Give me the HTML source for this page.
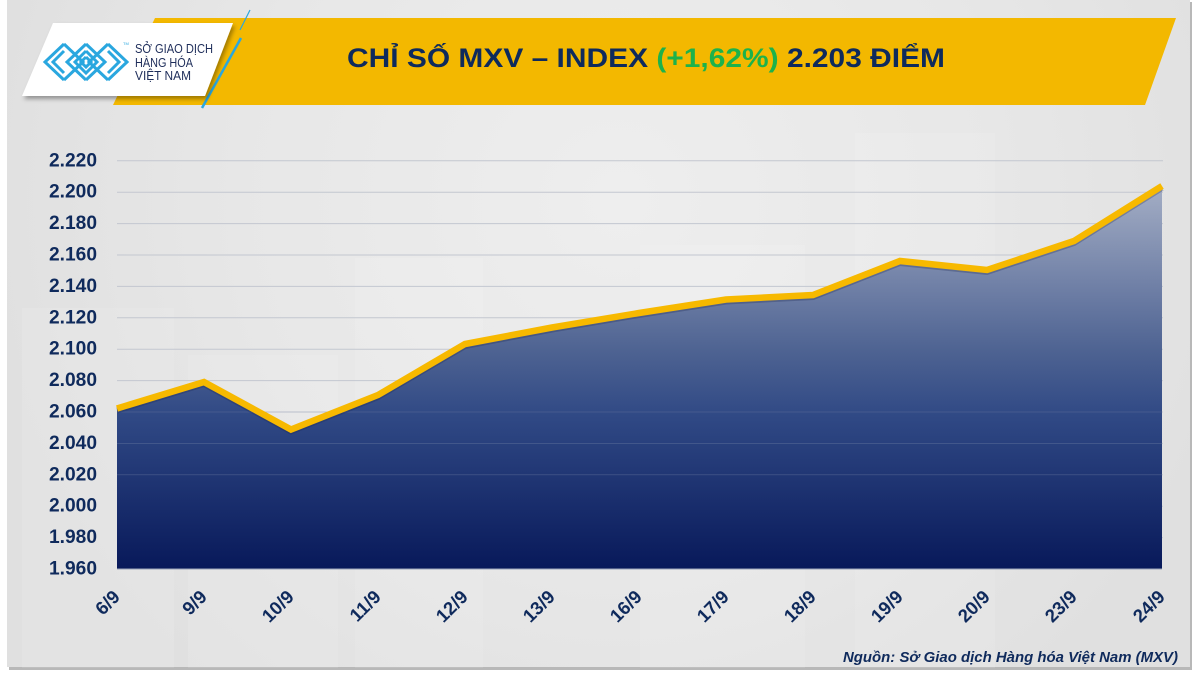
<!DOCTYPE html>
<html>
<head>
<meta charset="utf-8">
<style>
  html,body{margin:0;padding:0;background:#ffffff;}
  body{width:1200px;height:675px;overflow:hidden;position:relative;}
  svg{position:absolute;left:0;top:0;}
  text{font-family:"Liberation Sans","Noto Sans CJK SC",sans-serif;}
</style>
</head>
<body>
<svg width="1200" height="675" viewBox="0 0 1200 675" xmlns="http://www.w3.org/2000/svg">
  <defs>
    <radialGradient id="bgGlow" cx="620" cy="200" r="640" gradientUnits="userSpaceOnUse">
      <stop offset="0" stop-color="#eeeeee"/>
      <stop offset="0.6" stop-color="#e7e7e7"/>
      <stop offset="1" stop-color="#e0e0e0"/>
    </radialGradient>
    <linearGradient id="areaFill" x1="0" y1="186" x2="0" y2="569" gradientUnits="userSpaceOnUse">
      <stop offset="0" stop-color="#a4aec5"/>
      <stop offset="0.29" stop-color="#6a7ba3"/>
      <stop offset="0.43" stop-color="#4e6392"/>
      <stop offset="0.6" stop-color="#304985"/>
      <stop offset="1" stop-color="#08195a"/>
    </linearGradient>
    <filter id="sh" x="-10%" y="-10%" width="130%" height="140%">
      <feDropShadow dx="2" dy="3" stdDeviation="2" flood-color="#000" flood-opacity="0.35"/>
    </filter>
  </defs>

  <!-- panel shadow + panel -->
  <rect x="9" y="2" width="1183" height="668" fill="#b8b8b8"/>
  <rect x="7" y="0" width="1183" height="667" fill="url(#bgGlow)"/>

  <!-- faint background decorations -->
  <g fill="#ffffff" opacity="0.1">
    <rect x="22" y="308" width="152" height="360"/>
    <rect x="188" y="355" width="150" height="313"/>
    <rect x="355" y="258" width="128" height="410"/>
    <rect x="640" y="245" width="165" height="423"/>
    <rect x="855" y="133" width="140" height="535"/>
  </g>

  <!-- yellow banner -->
  <polygon points="155,18 1176,18 1145,105 113,105" fill="#f3b800"/>
  <!-- blue accent lines -->
  <line x1="250" y1="10" x2="240" y2="30" stroke="#2aa7df" stroke-width="1.2"/>
  <line x1="241" y1="38" x2="202" y2="108" stroke="#2aa7df" stroke-width="2.5"/>
  <!-- logo card -->
  <polygon points="53,23 233,23 205,96 22,96" fill="#ffffff" filter="url(#sh)"/>
  <!-- maze logo -->
  <g fill="none" stroke="#2aa7df" stroke-width="3" stroke-linejoin="miter">
    <polyline points="64,44 45,62 64,80"/>
    <polyline points="64,51 53,62 64,73"/>
    <polyline points="64,44 83,62 64,80"/>
    <polyline points="86,44 67,62 86,80"/>
    <polyline points="86,51 75,62 86,73 97,62 86,51"/>
    <polyline points="86,44 105,62 86,80"/>
    <polyline points="108,44 89,62 108,80"/>
    <polyline points="108,44 127,62 108,80"/>
    <polyline points="108,51 119,62 108,73"/>
    <polyline points="86,57 91,62 86,67 81,62 86,57"/>
  </g>
  <text x="123" y="45" font-size="4" fill="#2aa7df">TM</text>
  <g fill="#1e2d5a" font-size="13">
    <text x="135" y="53" textLength="78" lengthAdjust="spacingAndGlyphs">SỞ GIAO DỊCH</text>
    <text x="135" y="67" textLength="58" lengthAdjust="spacingAndGlyphs">HÀNG HÓA</text>
    <text x="135" y="80" textLength="56" lengthAdjust="spacingAndGlyphs">VIỆT NAM</text>
  </g>

  <!-- title -->
  <text x="347" y="67" font-size="27" font-weight="bold" fill="#0e2a5c" textLength="598" lengthAdjust="spacingAndGlyphs">CHỈ SỐ MXV – INDEX <tspan fill="#1db24b">(+1,62%)</tspan> 2.203 ĐIỂM</text>

  <!-- gridlines -->
  <g stroke="#c3c7d0" stroke-width="1">
    <line x1="117" y1="160.8" x2="1163" y2="160.8"/>
    <line x1="117" y1="192.2" x2="1163" y2="192.2"/>
    <line x1="117" y1="223.6" x2="1163" y2="223.6"/>
    <line x1="117" y1="255" x2="1163" y2="255"/>
    <line x1="117" y1="286.4" x2="1163" y2="286.4"/>
    <line x1="117" y1="317.8" x2="1163" y2="317.8"/>
    <line x1="117" y1="349.2" x2="1163" y2="349.2"/>
    <line x1="117" y1="380.6" x2="1163" y2="380.6"/>
    <line x1="117" y1="412" x2="1163" y2="412"/>
    <line x1="117" y1="443.4" x2="1163" y2="443.4"/>
    <line x1="117" y1="474.8" x2="1163" y2="474.8"/>
    <line x1="117" y1="506.2" x2="1163" y2="506.2"/>
    <line x1="117" y1="537.6" x2="1163" y2="537.6"/>
  </g>

  <!-- area fill -->
  <polygon fill="url(#areaFill)" points="117,408.5 204,382 291,429.5 378,395 465,344 552,327.5 639,313 726,299.5 813,295 900,261 987,270 1074,241 1162,186 1162,569 117,569"/>
  <g stroke="#8f9bb5" stroke-width="0.6" opacity="0.4">
    <line x1="117" y1="412" x2="1162" y2="412"/>
    <line x1="117" y1="443.4" x2="1162" y2="443.4"/>
    <line x1="117" y1="474.8" x2="1162" y2="474.8"/>
  </g>
  <line x1="117" y1="569" x2="1162" y2="569" stroke="#9aa3b8" stroke-width="1"/>

  <!-- line shadow -->
  <polyline fill="none" stroke="#1a2550" stroke-opacity="0.28" stroke-width="6" stroke-linejoin="miter" points="117,410.5 204,384 291,431.5 378,397 465,346 552,329.5 639,315 726,301.5 813,297 900,263 987,272 1074,243 1162,188"/>
  <!-- line -->
  <polyline fill="none" stroke="#f7b900" stroke-width="6.5" stroke-linejoin="miter" points="117,408.5 204,382 291,429.5 378,395 465,344 552,327.5 639,313 726,299.5 813,295 900,261 987,270 1074,241 1162,186"/>

  <!-- y labels -->
  <g font-size="19" font-weight="bold" fill="#0f2a5c" text-anchor="end">
    <text x="97" y="166.3" textLength="48" lengthAdjust="spacingAndGlyphs">2.220</text>
    <text x="97" y="197.7" textLength="48" lengthAdjust="spacingAndGlyphs">2.200</text>
    <text x="97" y="229.1" textLength="48" lengthAdjust="spacingAndGlyphs">2.180</text>
    <text x="97" y="260.5" textLength="48" lengthAdjust="spacingAndGlyphs">2.160</text>
    <text x="97" y="291.9" textLength="48" lengthAdjust="spacingAndGlyphs">2.140</text>
    <text x="97" y="323.3" textLength="48" lengthAdjust="spacingAndGlyphs">2.120</text>
    <text x="97" y="354.7" textLength="48" lengthAdjust="spacingAndGlyphs">2.100</text>
    <text x="97" y="386.1" textLength="48" lengthAdjust="spacingAndGlyphs">2.080</text>
    <text x="97" y="417.5" textLength="48" lengthAdjust="spacingAndGlyphs">2.060</text>
    <text x="97" y="448.9" textLength="48" lengthAdjust="spacingAndGlyphs">2.040</text>
    <text x="97" y="480.3" textLength="48" lengthAdjust="spacingAndGlyphs">2.020</text>
    <text x="97" y="511.7" textLength="48" lengthAdjust="spacingAndGlyphs">2.000</text>
    <text x="97" y="543.1" textLength="48" lengthAdjust="spacingAndGlyphs">1.980</text>
    <text x="97" y="574.5" textLength="48" lengthAdjust="spacingAndGlyphs">1.960</text>
  </g>

  <!-- x labels -->
  <g font-size="18.5" font-weight="bold" fill="#0f2a5c" text-anchor="end">
    <text transform="translate(121,598) rotate(-45)">6/9</text>
    <text transform="translate(208,598) rotate(-45)">9/9</text>
    <text transform="translate(295,598) rotate(-45)">10/9</text>
    <text transform="translate(382,598) rotate(-45)">11/9</text>
    <text transform="translate(469,598) rotate(-45)">12/9</text>
    <text transform="translate(556,598) rotate(-45)">13/9</text>
    <text transform="translate(643,598) rotate(-45)">16/9</text>
    <text transform="translate(730,598) rotate(-45)">17/9</text>
    <text transform="translate(817,598) rotate(-45)">18/9</text>
    <text transform="translate(904,598) rotate(-45)">19/9</text>
    <text transform="translate(991,598) rotate(-45)">20/9</text>
    <text transform="translate(1078,598) rotate(-45)">23/9</text>
    <text transform="translate(1166,598) rotate(-45)">24/9</text>
  </g>

  <!-- source -->
  <text x="1178" y="662" font-size="14.5" font-weight="bold" font-style="italic" fill="#0f2a5c" text-anchor="end" textLength="335" lengthAdjust="spacingAndGlyphs">Nguồn: Sở Giao dịch Hàng hóa Việt Nam (MXV)</text>
</svg>
</body>
</html>
